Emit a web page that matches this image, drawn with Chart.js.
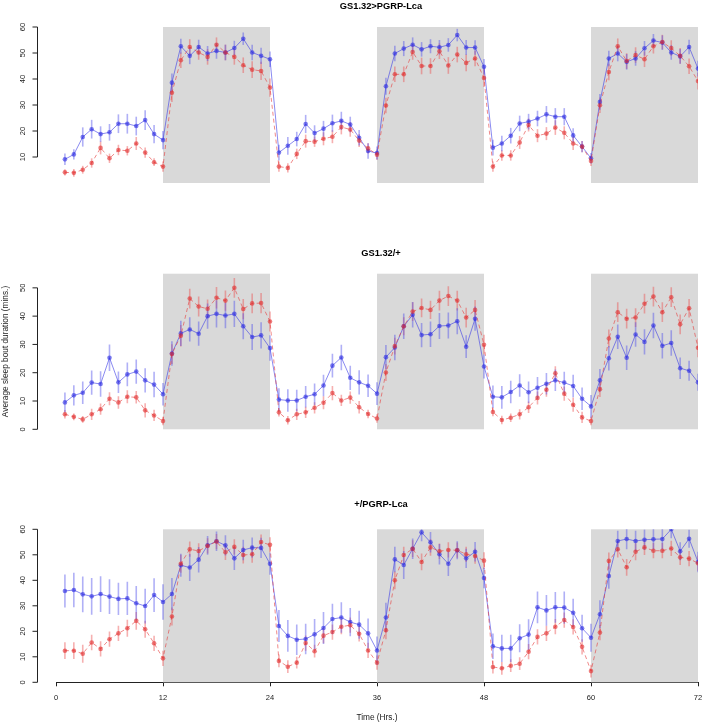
<!DOCTYPE html>
<html><head><meta charset="utf-8">
<script src="https://cdn.jsdelivr.net/npm/chart.js@4.4.1/dist/chart.umd.min.js"></script>
<style>
html,body{margin:0;padding:0;background:#fff;}
#wrap{position:relative;width:703px;height:722px;}
canvas{position:absolute;left:0;}
</style></head><body>
<div id="wrap">
<canvas id="c1" width="703" height="200" style="top:0px"></canvas>
<canvas id="c2" width="703" height="210" style="top:230px"></canvas>
<canvas id="c3" width="703" height="242" style="top:480px"></canvas>
</div>
<script>
// hours after start (x positions of the points)
const hours=[1,2,3,4,5,6,7,8,9,10,11,12,13,14,15,16,17,18,19,20,21,22,23,24,25,26,27,28,29,30,31,32,33,34,35,36,
 37,38,39,40,41,42,43,44,45,46,47,48,49,50,51,52,53,54,55,56,57,58,59,60,61,62,63,64,65,66,67,68,69,70,71,72];
const xTicks=[0,12,24,36,48,60,72];
const nightStart=[12,36,60];
const nightEnd=[24,48,72];

const titles=['GS1.32>PGRP-Lca','GS1.32/+','+/PGRP-Lca'];
const yTicks1=[10,20,30,40,50,60];
const yTicks2=[0,10,20,30,40,50];
const yTicks3=[0,10,20,30,40,50,60];
const yMax=[60,55,60];

// GS1.32>PGRP-Lca
const p1Blue=[9.1,11.0,17.7,20.7,18.8,19.5,22.8,22.8,21.9,24.2,18.8,16.5, 38.6,52.6,48.9,52.3,49.8,50.8,50.2,51.9,55.5,50.2,48.9,47.6,
 11.7,14.3,16.9,22.7,19.2,20.9,23.0,23.9,22.5,17.4,12.3,11.5, 37.2,49.8,51.7,53.2,51.4,52.6,52.2,53.1,56.9,52.1,52.1,44.7,
 13.6,15.2,18.2,22.9,23.6,24.8,26.4,25.5,25.5,18.3,14.0,9.5, 31.2,47.9,49.8,46.6,47.9,51.8,54.8,54.0,50.2,48.7,52.3,44.0];
const p1BlueErr=[2.2,2.0,3.7,3.6,3.0,3.2,3.6,3.8,3.6,3.8,3.5,3.5, 3.5,2.9,3.2,2.8,2.9,3.0,3.0,2.8,2.4,3.0,3.1,3.0,
 3.0,3.4,2.8,3.5,3.0,3.0,3.3,3.5,3.0,3.0,3.0,2.5, 3.3,3.0,2.9,2.8,2.8,2.7,2.8,2.6,2.4,2.9,2.8,3.0,
 3.0,3.0,3.0,3.0,3.0,3.0,3.2,3.3,3.3,2.8,2.2,2.0, 3.0,3.0,3.0,3.0,2.8,2.8,2.5,2.8,2.8,2.8,2.8,3.0];
const p1Red=[4.1,3.9,5.1,7.7,13.5,9.5,12.7,12.4,15.2,11.7,8.0,6.3, 34.7,47.2,52.3,50.2,48.5,53.2,50.2,48.5,45.3,43.6,43.1,36.7,
 6.3,5.8,11.2,16.1,15.9,17.0,17.8,21.5,20.6,16.3,13.3,10.9, 29.8,41.8,41.8,50.4,45.0,45.0,50.7,45.2,49.4,46.2,47.9,40.4,
 6.3,10.6,10.6,15.6,22.3,18.2,19.0,21.3,19.3,15.2,14.0,8.5, 29.9,42.7,52.6,46.9,49.2,47.6,52.6,54.2,51.9,48.9,44.9,39.2];
const p1RedErr=[1.2,1.5,1.5,1.8,2.5,1.8,2.0,1.8,2.5,2.0,1.5,2.0, 3.5,3.0,3.0,2.8,3.0,2.8,3.0,3.0,3.0,3.2,3.5,3.5,
 2.0,1.8,2.0,2.5,2.0,2.5,2.5,2.8,2.8,2.5,2.0,2.0, 3.0,3.0,3.0,3.0,3.2,3.0,3.0,3.2,3.0,3.2,3.0,3.5,
 2.0,2.0,2.0,2.5,2.5,2.5,2.5,2.8,2.5,2.5,2.2,2.0, 3.0,3.2,3.0,3.0,3.0,3.0,2.8,2.8,3.0,3.0,3.0,3.2];

// GS1.32/+
const p2Blue=[9.5,12.0,12.9,16.5,16.0,25.3,16.6,19.4,20.4,17.3,15.8,12.4, 26.8,33.9,35.3,33.8,40.0,40.8,40.2,40.8,36.4,32.6,33.2,28.7,
 10.5,10.2,10.2,11.5,12.4,15.5,22.5,25.4,18.2,16.6,15.4,12.6, 25.5,28.9,36.4,40.5,33.3,33.6,36.5,36.7,38.2,29.2,39.1,22.2,
 11.5,11.3,13.2,15.5,13.1,14.7,16.1,17.3,16.5,15.3,10.8,8.1, 17.3,25.1,32.7,25.3,33.5,30.9,36.7,29.5,30.5,21.6,20.7,16.6];
const p2BlueErr=[3.5,3.6,4.0,4.3,4.5,4.7,3.8,4.2,4.3,4.3,4.5,4.0, 4.3,4.5,4.3,4.3,4.5,4.8,4.5,4.6,4.6,4.6,4.6,4.5,
 4.0,4.0,3.8,3.8,3.8,3.8,4.2,4.5,4.3,4.3,4.0,4.0, 4.3,4.5,4.5,4.5,4.3,4.5,4.6,4.6,4.6,4.0,4.3,4.2,
 4.0,4.0,4.0,4.0,3.8,3.8,3.8,3.8,3.8,4.0,4.0,4.0, 4.0,4.3,4.3,4.3,4.3,4.5,4.5,4.5,4.5,3.8,3.5,3.0];
const p2Red=[5.3,4.4,3.5,5.3,7.1,10.8,9.5,11.5,11.3,6.7,4.9,2.9, 26.6,33.1,46.2,43.4,42.6,46.5,45.5,50.0,42.5,44.5,44.6,38.1,
 6.0,3.2,5.3,6.0,7.6,9.4,12.8,10.2,11.2,7.8,5.4,3.8, 20.1,29.4,36.4,41.6,42.9,42.2,45.5,47.1,45.5,39.5,42.2,29.9,
 6.1,3.3,4.1,5.3,7.8,11.1,14.0,19.8,12.6,8.7,4.2,2.9, 14.2,32.1,41.4,39.1,39.5,44.4,46.9,41.4,46.7,37.1,42.8,28.8];
const p2RedErr=[1.5,1.2,1.2,2.0,2.0,2.3,2.2,2.3,2.2,2.5,2.0,1.5, 3.5,3.8,3.5,3.5,3.3,3.8,3.6,3.5,3.6,3.5,3.6,3.5,
 1.5,1.5,2.0,2.0,2.0,2.3,2.5,2.0,2.2,2.2,1.5,1.5, 3.0,3.0,3.2,3.3,3.3,3.2,3.5,3.5,3.5,3.5,3.5,3.5,
 1.5,1.5,1.5,1.8,2.0,2.3,2.5,2.5,2.5,2.5,2.0,1.5, 2.8,3.2,3.5,3.5,3.3,3.5,3.5,3.5,3.5,3.5,3.3,3.3];

// +/PGRP-Lca
const p3Blue=[35.8,36.2,34.5,33.7,34.6,33.6,32.7,32.9,31.0,29.9,34.2,31.5, 34.6,45.9,45.0,48.1,53.7,55.3,53.7,48.6,51.9,52.8,52.7,46.5,
 22.1,18.2,16.7,17.0,18.8,21.3,24.8,25.4,23.6,22.6,19.2,12.5, 25.4,48.2,46.0,52.4,58.8,54.9,50.2,46.5,51.8,48.6,51.2,40.9,
 14.1,13.3,13.3,17.3,18.7,29.4,28.2,29.4,29.3,27.3,21.2,17.5, 26.7,41.7,55.4,56.2,55.4,55.9,56.1,56.2,60.0,51.4,56.3,47.2];
const p3BlueErr=[6.5,6.8,7.0,7.2,7.0,6.8,6.3,6.5,6.8,6.8,6.6,7.0, 6.3,4.5,5.3,5.0,3.7,3.8,4.0,4.6,4.0,4.0,4.0,4.3,
 6.3,6.2,6.0,6.0,6.0,6.3,6.0,6.0,5.5,5.5,5.8,5.5, 5.8,5.0,5.5,4.0,3.5,4.0,4.0,4.8,3.5,3.8,3.8,4.0,
 5.0,5.3,5.3,5.5,6.0,6.2,6.0,6.0,6.3,5.5,5.3,5.5, 5.5,5.0,4.0,4.0,4.0,4.0,4.0,4.0,3.5,3.5,3.5,4.0];
const p3Red=[12.4,12.4,11.2,15.6,13.1,16.9,19.2,21.2,24.1,20.8,15.3,9.4, 25.8,46.5,52.2,51.5,53.5,55.2,51.0,53.1,49.9,50.2,55.0,53.9,
 8.4,6.1,7.7,15.4,12.2,18.3,19.7,21.8,22.4,19.0,12.5,7.7, 20.4,40.0,49.9,52.4,47.2,52.9,51.4,51.9,51.8,50.2,49.5,47.7,
 6.0,5.5,6.5,7.3,12.0,17.8,19.2,21.8,24.4,21.7,13.9,4.4, 19.5,47.6,52.2,45.1,51.2,52.9,51.6,51.6,52.5,49.0,48.5,46.7];
const p3RedErr=[3.3,3.3,3.5,3.0,3.0,3.0,3.0,3.3,3.5,3.3,3.0,3.0, 3.5,3.5,3.0,3.0,3.0,3.0,3.0,3.0,3.3,3.3,3.0,3.0,
 2.5,2.5,2.3,3.0,2.5,3.0,3.0,3.0,3.0,3.0,3.0,2.8, 3.5,3.5,3.3,3.3,3.3,3.3,3.0,3.0,3.0,3.0,3.0,3.3,
 2.5,2.5,2.5,2.5,3.0,3.0,3.0,3.0,3.0,3.0,3.0,2.5, 3.0,3.3,3.3,3.3,3.3,3.0,3.0,3.0,3.0,3.0,3.0,3.0];

const FONT='"Liberation Sans", Arial, Helvetica, sans-serif';
Chart.defaults.font.family=FONT;
Chart.defaults.color='#1a1a1a';

const toXY=v=>hours.map((h,i)=>({x:h,y:v[i]}));

// grey boxes for the dark phases
const nightShade={id:'nightShade',beforeDatasetsDraw(chart,args,opts){
  const {ctx,scales:{x,y}}=chart;
  ctx.save();ctx.fillStyle='#d9d9d9';
  nightStart.forEach((s,i)=>{
    const x0=x.getPixelForValue(s),x1=x.getPixelForValue(nightEnd[i]);
    const y0=y.getPixelForValue(opts.top),y1=y.getPixelForValue(0);
    ctx.fillRect(x0,y0,x1-x0,y1-y0);
  });
  ctx.restore();
}};

// vertical SEM bars
const errorBars={id:'errorBars',beforeDatasetsDraw(chart){
  const {ctx,chartArea:a,scales:{y}}=chart;
  ctx.save();
  ctx.beginPath();ctx.rect(a.left,a.top,a.right-a.left,a.bottom-a.top);ctx.clip();
  chart.data.datasets.forEach((ds,di)=>{
    const meta=chart.getDatasetMeta(di);
    ctx.strokeStyle=ds.barColor;ctx.lineWidth=1.6;
    meta.data.forEach((pt,i)=>{
      const v=ds.data[i].y,e=ds.err[i];
      ctx.beginPath();
      ctx.moveTo(pt.x,y.getPixelForValue(v-e));
      ctx.lineTo(pt.x,y.getPixelForValue(v+e));
      ctx.stroke();
    });
  });
  ctx.restore();
}};

// R-style y axis line, set off to the left of the plot region
const rAxis={id:'rAxis',afterDraw(chart){
  const {ctx,chartArea:a,scales:{y}}=chart;
  const ax=a.left-18.5;
  const t=y.ticks.map(k=>y.getPixelForValue(k.value));
  ctx.save();ctx.strokeStyle='#222';ctx.lineWidth=1;
  ctx.beginPath();ctx.moveTo(ax,Math.min(...t));ctx.lineTo(ax,Math.max(...t));
  t.forEach(p=>{ctx.moveTo(ax,p);ctx.lineTo(ax-5,p);});
  ctx.stroke();ctx.restore();
}};

const panelTitle={id:'panelTitle',afterDraw(chart,args,opts){
  const {ctx,chartArea:a}=chart;
  ctx.save();ctx.font='bold 9.3px '+FONT;ctx.fillStyle='#000';
  ctx.textAlign='center';ctx.textBaseline='middle';
  ctx.fillText(opts.text,(a.left+a.right)/2+4,opts.y);
  ctx.restore();
}};

function makePanel(id,p){
  const showX=!!p.showX;
  return new Chart(document.getElementById(id).getContext('2d'),{
    type:'line',
    data:{datasets:[
      {data:toXY(p.red),err:p.redErr,barColor:'rgba(235,80,80,0.45)',borderColor:'rgba(230,60,60,0.6)',borderWidth:1,borderDash:[4,3],
       pointRadius:2.3,pointBorderWidth:0,pointBackgroundColor:'rgba(225,40,40,0.6)',tension:0},
      {data:toXY(p.blue),err:p.blueErr,barColor:'rgba(80,80,235,0.45)',borderColor:'rgba(60,60,230,0.6)',borderWidth:1,
       pointRadius:2.3,pointBorderWidth:0,pointBackgroundColor:'rgba(40,40,225,0.6)',tension:0}
    ]},
    options:{
      responsive:false,animation:false,
      layout:{padding:{top:p.padTop,bottom:p.padBottom,left:0,right:5}},
      plugins:{legend:{display:false},tooltip:{enabled:false},
        nightShade:{top:p.top},panelTitle:{text:p.title,y:p.titleY}},
      scales:{
        x:{type:'linear',min:0,max:72,display:showX,
          afterBuildTicks:s=>{s.ticks=xTicks.map(v=>({value:v}));},
          afterFit:s=>{if(showX)s.height=39.7;s.paddingLeft=0;s.paddingRight=0;},
          grid:{display:true,drawOnChartArea:false,drawTicks:true,tickLength:4,color:'#222'},
          border:{display:true,color:'#222',width:1},
          ticks:{font:{size:7.5},padding:7,color:'#1a1a1a',maxRotation:0},
          title:{display:showX,text:'Time (Hrs.)',font:{size:8.3,lineHeight:1},padding:{top:0,bottom:0},color:'#1a1a1a'}},
        y:{min:0,max:p.top,
          afterBuildTicks:s=>{s.ticks=p.yTicks.map(v=>({value:v}));},
          afterFit:s=>{s.width=56;s.paddingTop=0;s.paddingBottom=0;},
          grid:{display:false,drawTicks:false},border:{display:false},
          ticks:{font:{size:7.5},minRotation:90,maxRotation:90,crossAlign:'center',padding:29,autoSkip:false,color:'#1a1a1a'},
          title:{display:!!p.yTitle,text:'Average sleep bout duration (mins.)',font:{size:8.3,lineHeight:1},padding:{top:2,bottom:0},color:'#1a1a1a'}}
      }
    },
    plugins:[nightShade,errorBars,rAxis,panelTitle]
  });
}

makePanel('c1',{title:titles[0],titleY:6,top:yMax[0],yTicks:yTicks1,padTop:27,padBottom:17,
  blue:p1Blue,blueErr:p1BlueErr,red:p1Red,redErr:p1RedErr});
makePanel('c2',{title:titles[1],titleY:23.5,top:yMax[1],yTicks:yTicks2,padTop:43.7,padBottom:10.7,yTitle:true,
  blue:p2Blue,blueErr:p2BlueErr,red:p2Red,redErr:p2RedErr});
makePanel('c3',{title:titles[2],titleY:24,top:yMax[2],yTicks:yTicks3,padTop:49.3,padBottom:0,showX:true,
  blue:p3Blue,blueErr:p3BlueErr,red:p3Red,redErr:p3RedErr});
</script>
</body></html>
